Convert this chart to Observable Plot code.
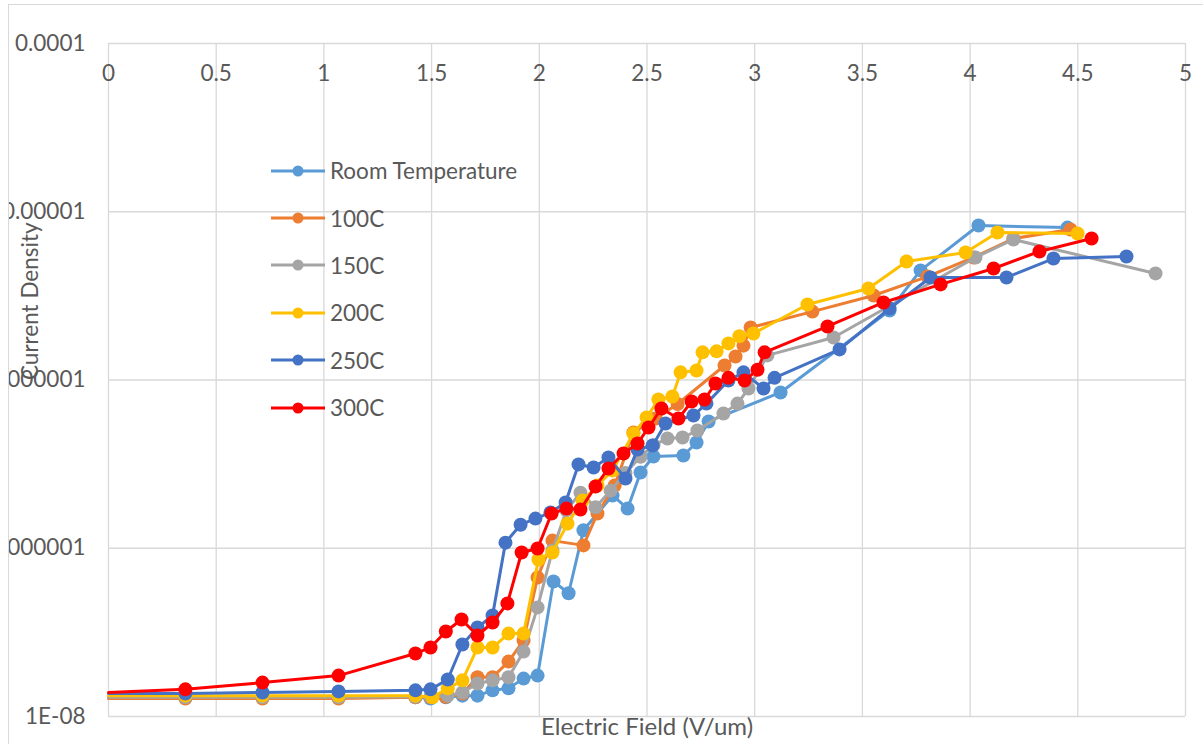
<!DOCTYPE html>
<html><head><meta charset="utf-8">
<script src="https://cdn.jsdelivr.net/npm/d3@7"></script>
<script src="https://cdn.jsdelivr.net/npm/@observablehq/plot@0.6"></script>
<style>
body{margin:0;background:#fff;font-family:Lato,"Open Sans",sans-serif;}
#frame{position:absolute;left:8px;top:4px;width:1194px;height:745px;border-left:1px solid #d9d9d9;border-top:1px solid #d9d9d9;overflow:hidden;}
#chart{position:absolute;left:-9px;top:-5px;}
#legend{position:absolute;left:262px;top:142px;}
.item{display:flex;align-items:center;height:47.4px;color:#595959;font-size:22.5px;}
.item svg{margin-right:5px;}
</style></head>
<body>
<div id="frame"><div id="chart"></div><div id="legend"></div></div>
<script>
const seriesNames = ["Room Temperature","100C","150C","200C","250C","300C"];
const seriesColors = ["#5B9BD5","#ED7D31","#A5A5A5","#FFC000","#4472C4","#FF0000"];
const xTicks = [0,0.5,1,1.5,2,2.5,3,3.5,4,4.5,5];
const xTickLabels = ["0","0.5","1","1.5","2","2.5","3","3.5","4","4.5","5"];
const yTicks = [1e-8,1e-7,1e-6,1e-5,1e-4];
const yTickLabels = ["1E-08","0.0000001","0.000001","0.00001","0.0001"];

const rtX = [0,0.357,0.715,1.068,1.425,1.495,1.566,1.643,1.713,1.783,1.857,1.927,1.992,2.066,2.136,2.205,2.340,2.410,2.470,2.530,2.669,2.730,2.786,3.120,3.626,3.770,4.039,4.452];
const rtY = [1.30e-8,1.30e-8,1.30e-8,1.30e-8,1.30e-8,1.28e-8,1.30e-8,1.33e-8,1.33e-8,1.43e-8,1.47e-8,1.68e-8,1.75e-8,6.34e-8,5.4e-8,1.28e-7,2.06e-7,1.72e-7,2.82e-7,3.51e-7,3.56e-7,4.25e-7,5.67e-7,8.43e-7,2.59e-6,4.48e-6,8.28e-6,8.05e-6];

const c100X = [0,0.357,0.715,1.068,1.425,1.495,1.566,1.643,1.713,1.783,1.857,1.927,1.992,2.061,2.205,2.270,2.350,2.437,2.540,2.642,2.860,2.911,2.948,2.981,3.268,3.552,3.802,4.016,4.201,4.466];
const c100Y = [1.28e-8,1.28e-8,1.28e-8,1.28e-8,1.30e-8,1.30e-8,1.31e-8,1.37e-8,1.71e-8,1.71e-8,2.12e-8,2.83e-8,6.7e-8,1.11e-7,1.04e-7,1.61e-7,2.36e-7,4.88e-7,5.9e-7,7.2e-7,1.22e-6,1.38e-6,1.60e-6,2.05e-6,2.55e-6,3.18e-6,4.12e-6,5.35e-6,6.93e-6,7.84e-6];

const c150X = [0,0.357,0.715,1.068,1.425,1.495,1.575,1.643,1.713,1.783,1.857,1.927,1.992,2.061,2.126,2.191,2.261,2.331,2.400,2.470,2.530,2.595,2.665,2.734,2.855,2.920,2.971,3.059,3.366,4.025,4.201,4.861];
const c150Y = [1.30e-8,1.30e-8,1.30e-8,1.30e-8,1.31e-8,1.31e-8,1.33e-8,1.39e-8,1.57e-8,1.64e-8,1.71e-8,2.43e-8,4.45e-8,9.7e-8,1.68e-7,2.14e-7,1.75e-7,2.20e-7,2.8e-7,3.5e-7,4.1e-7,4.49e-7,4.55e-7,5.01e-7,6.32e-7,7.24e-7,8.90e-7,1.40e-6,1.79e-6,5.35e-6,6.84e-6,4.30e-6];

const c200X = [0,0.357,0.715,1.068,1.425,1.504,1.575,1.643,1.713,1.783,1.857,1.927,1.996,2.061,2.131,2.201,2.270,2.340,2.437,2.498,2.553,2.618,2.656,2.730,2.758,2.823,2.878,2.929,2.994,3.245,3.528,3.705,3.979,4.127,4.499];
const c200Y = [1.33e-8,1.33e-8,1.33e-8,1.33e-8,1.33e-8,1.30e-8,1.47e-8,1.64e-8,2.57e-8,2.57e-8,3.11e-8,3.11e-8,8.57e-8,9.44e-8,1.40e-7,1.92e-7,2.36e-7,2.90e-7,4.81e-7,5.98e-7,7.66e-7,7.98e-7,1.11e-6,1.14e-6,1.46e-6,1.48e-6,1.65e-6,1.82e-6,1.89e-6,2.81e-6,3.50e-6,5.06e-6,5.73e-6,7.53e-6,7.43e-6];

const c250X = [0,0.357,0.715,1.068,1.425,1.495,1.575,1.643,1.713,1.783,1.843,1.913,1.982,2.052,2.122,2.182,2.252,2.321,2.400,2.456,2.526,2.586,2.716,2.776,2.878,2.948,3.041,3.092,3.394,3.626,3.816,4.169,4.387,4.726];
const c250Y = [1.37e-8,1.37e-8,1.39e-8,1.41e-8,1.43e-8,1.45e-8,1.66e-8,2.68e-8,3.38e-8,3.98e-8,1.08e-7,1.38e-7,1.50e-7,1.63e-7,1.87e-7,3.15e-7,3.02e-7,3.46e-7,2.60e-7,3.86e-7,4.08e-7,5.51e-7,6.15e-7,7.24e-7,9.93e-7,1.11e-6,8.90e-7,1.03e-6,1.52e-6,2.66e-6,4.07e-6,4.07e-6,5.27e-6,5.42e-6];

const c300X = [0,0.357,0.715,1.068,1.425,1.495,1.566,1.639,1.713,1.783,1.852,1.918,1.992,2.057,2.126,2.191,2.261,2.321,2.391,2.456,2.507,2.567,2.646,2.707,2.767,2.818,2.878,2.953,3.013,3.046,3.338,3.598,3.863,4.109,4.322,4.564];
const c300Y = [1.39e-8,1.45e-8,1.59e-8,1.75e-8,2.37e-8,2.57e-8,3.20e-8,3.77e-8,3.03e-8,3.62e-8,4.70e-8,9.44e-8,9.97e-8,1.61e-7,1.72e-7,1.70e-7,2.33e-7,2.98e-7,3.66e-7,4.19e-7,5.22e-7,6.77e-7,5.90e-7,7.45e-7,7.66e-7,9.53e-7,1.03e-6,9.93e-7,1.15e-6,1.46e-6,2.08e-6,2.89e-6,3.70e-6,4.60e-6,5.81e-6,6.93e-6];

const allX = [rtX,c100X,c150X,c200X,c250X,c300X];
const allY = [rtY,c100Y,c150Y,c200Y,c250Y,c300Y];

const seriesMarks = [];
allX.forEach((xs,i)=>{
  const data = xs.map((x,j)=>({x, y: allY[i][j]}));
  seriesMarks.push(Plot.line(data,{x:"x",y:"y",stroke:seriesColors[i],strokeWidth:3,strokeLinejoin:"round"}));
  seriesMarks.push(Plot.dot(data.filter(d=>d.x>0),{x:"x",y:"y",r:7,fill:seriesColors[i],stroke:"none"}));
});

const chart = Plot.plot({
  width:1203, height:744,
  marginLeft:108, marginRight:18, marginTop:43, marginBottom:28,
  style:{fontFamily:"Lato, 'Open Sans', sans-serif", fontSize:"22.5px", color:"#595959", background:"transparent", overflow:"visible"},
  x:{domain:[0,5], axis:null},
  y:{type:"log", domain:[1e-8,1e-4], axis:null},
  marks:[
    Plot.gridX(xTicks,{stroke:"#d9d9d9",strokeOpacity:1,strokeWidth:1.3}),
    Plot.gridY(yTicks,{stroke:"#d9d9d9",strokeOpacity:1,strokeWidth:1.3}),
    Plot.text(xTicks,{x:d=>d,frameAnchor:"top",dy:30,lineAnchor:"middle",text:(d,i)=>xTickLabels[i],fill:"#595959"}),
    Plot.text(yTicks,{y:d=>d,frameAnchor:"left",dx:-23,textAnchor:"end",lineAnchor:"middle",text:(d,i)=>yTickLabels[i],fill:"#595959"}),
    ...seriesMarks,
    Plot.text(["Current Density"],{frameAnchor:"left",dx:-78,rotate:-90,lineAnchor:"middle",fill:"#595959",fontSize:22.5}),
    Plot.text(["Electric Field (V/um)"],{frameAnchor:"bottom",dy:11,lineAnchor:"middle",fill:"#595959",fontSize:24})
  ]
});
document.getElementById("chart").appendChild(chart);

const legend = document.getElementById("legend");
seriesNames.forEach((name,i)=>{
  const div = document.createElement("div");
  div.className = "item";
  div.innerHTML = `<svg width="54" height="14"><line x1="0" y1="7" x2="54" y2="7" stroke="${seriesColors[i]}" stroke-width="3"/><circle cx="27" cy="7" r="5.5" fill="${seriesColors[i]}"/></svg><span>${name}</span>`;
  legend.appendChild(div);
});
</script>
</body></html>
